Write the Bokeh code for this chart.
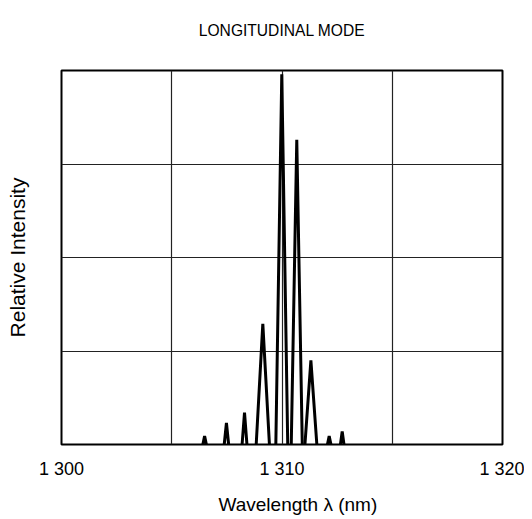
from bokeh.plotting import figure
from bokeh.models import FixedTicker, Range1d, Title, LinearAxis
from bokeh.embed import file_html
from bokeh.resources import INLINE

# Data
peak_wavelength = [1306.49, 1307.48, 1308.30, 1309.13, 1309.99, 1310.67, 1311.31, 1312.14, 1312.73]
peak_intensity = [0.09, 0.23, 0.34, 1.29, 3.96, 3.26, 0.90, 0.09, 0.14]
peak_halfwidth = [0.08, 0.10, 0.11, 0.30, 0.27, 0.25, 0.27, 0.08, 0.08]
x_ticks = [1300, 1310, 1320]
x_tick_labels = ["1 300", "1 310", "1 320"]
x_grid = [1305, 1310, 1315]
y_grid = [1, 2, 3]

xs = [[c - w, c, c + w] for c, w in zip(peak_wavelength, peak_halfwidth)]
ys = [[0, h, 0] for h in peak_intensity]

FONT = "Liberation Sans"

p = figure(frame_width=441, frame_height=374, output_backend="svg", toolbar_location=None,
           x_range=Range1d(1300, 1320), y_range=Range1d(0, 4),
           min_border_left=61, min_border_right=22, min_border_top=70, min_border_bottom=72)
p.title = None

p.multi_line(xs, ys, line_color="black", line_width=3, line_join="bevel")

p.outline_line_color = "black"
p.outline_line_width = 2

p.xaxis.ticker = FixedTicker(ticks=x_ticks)
p.xaxis.major_label_overrides = {t: l for t, l in zip(x_ticks, x_tick_labels)}
p.xaxis.axis_line_color = None
p.xaxis.major_tick_line_color = None
p.xaxis.minor_tick_line_color = None
p.xaxis.major_tick_out = 0
p.xaxis.major_tick_in = 0
p.xaxis.major_label_text_font = FONT
p.xaxis.major_label_text_font_size = "18px"
p.xaxis.major_label_text_color = "black"
p.xaxis.major_label_standoff = 14

p.yaxis.ticker = FixedTicker(ticks=[])
p.yaxis.axis_line_color = None
p.yaxis.major_tick_line_color = None
p.yaxis.minor_tick_line_color = None
p.yaxis.major_tick_out = 0
p.yaxis.major_tick_in = 0
p.yaxis.axis_label = "Relative Intensity"
p.yaxis.axis_label_text_font = FONT
p.yaxis.axis_label_text_font_size = "21px"
p.yaxis.axis_label_text_font_style = "normal"
p.yaxis.axis_label_text_color = "black"
p.yaxis.axis_label_standoff = 33

# Title carried by a bare axis above the frame
top = LinearAxis(ticker=FixedTicker(ticks=[]), axis_line_color=None,
                 major_tick_line_color=None, minor_tick_line_color=None,
                 major_tick_out=0, major_tick_in=0,
                 axis_label="LONGITUDINAL MODE", axis_label_text_font=FONT,
                 axis_label_text_font_size="15.6px", axis_label_text_font_style="normal",
                 axis_label_text_color="black", axis_label_standoff=32)
p.add_layout(top, "above")

# x-axis label (slightly right of centre, as in the reference)
p.add_layout(Title(text="Wavelength  λ (nm)", align="left", offset=157, standoff=20,
                   text_font=FONT, text_font_size="19px", text_font_style="normal",
                   text_color="black"), "below")

p.xgrid.ticker = FixedTicker(ticks=x_grid)
p.ygrid.ticker = FixedTicker(ticks=y_grid)
p.grid.grid_line_color = "#222222"
p.grid.grid_line_width = 1.2
p.grid.grid_line_alpha = 1.0

open("out.html", "w").write(file_html(p, INLINE))
